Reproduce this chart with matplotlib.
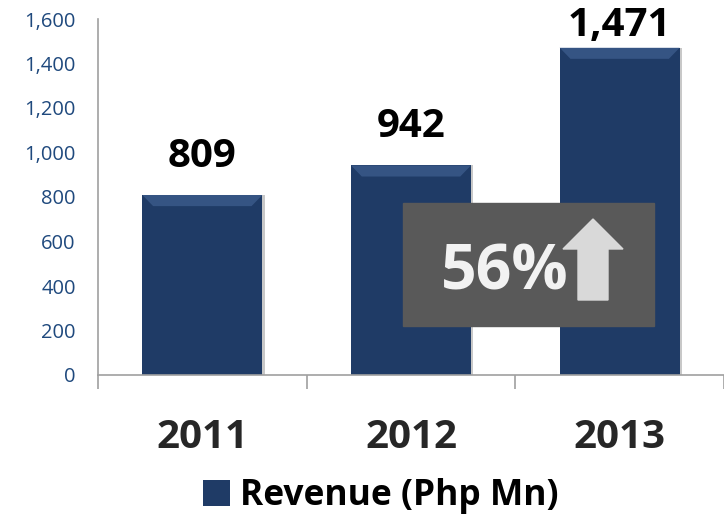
import matplotlib.pyplot as plt
from matplotlib.patches import Rectangle, Polygon

plt.rcParams['font.family'] = ['Open Sans', 'DejaVu Sans']

# Data
years = ['2011', '2012', '2013']
revenue = [809, 942, 1471]
label_offsets = [28, 28, 12]  # px gap above bar (last one squeezed at the top)
growth_label = '56%'
series_name = 'Revenue (Php Mn)'

bar_color = '#1F3B66'
fig = plt.figure(figsize=(7.24, 5.19), dpi=100)
ax = fig.add_axes([98 / 724, 144 / 519, 626 / 724, 356 / 519])

x = list(range(len(years)))
bars = ax.bar(x, revenue, width=0.575, color=bar_color, edgecolor='none',
              label=series_name, zorder=2)

# simple bevel on top of each bar
for rect in bars:
    x0 = rect.get_x()
    w = rect.get_width()
    top = rect.get_height()
    dx = w * 0.09
    dy = 50
    ax.add_patch(Polygon([(x0, top), (x0 + w, top), (x0 + w - dx, top - dy), (x0 + dx, top - dy)],
                         closed=True, color='#3F5F90', alpha=0.7, lw=0, zorder=3))
    ax.add_patch(Rectangle((x0 + w, 0), 0.012, top, color='#C8C8C8', lw=0, zorder=1))

# value labels
for rect, v, off in zip(bars, revenue, label_offsets):
    ax.annotate(f'{v:,}', (rect.get_x() + rect.get_width() / 2, v),
                xytext=(0, off * 0.72), textcoords='offset points',
                ha='center', va='baseline', fontsize=29, fontweight='bold', color='black')

ax.set_xlim(-0.5, len(years) - 0.5)
ax.set_ylim(0, 1600)
ax.set_yticks(range(0, 1601, 200))
ax.set_yticklabels([f'{v:,}' for v in range(0, 1601, 200)])
ax.tick_params(axis='y', length=0, pad=16, labelsize=14.5, labelcolor='#1F497D')

ax.set_xticks(x)
ax.set_xticklabels(years, fontsize=29, fontweight='bold', color='#262626')
ax.set_xticks([i - 0.5 for i in range(len(years) + 1)], minor=True)
ax.tick_params(axis='x', which='major', length=0, pad=31)
ax.tick_params(axis='x', which='minor', length=10, width=1.2, color='#A0A0A0')

for s in ['top', 'right']:
    ax.spines[s].set_visible(False)
for s in ['left', 'bottom']:
    ax.spines[s].set_color('#A0A0A0')
    ax.spines[s].set_linewidth(1.2)

# growth callout
fig.patches.append(Rectangle((403 / 724, 1 - 326 / 519), 251 / 724, 123 / 519,
                             transform=fig.transFigure, color='#595959', zorder=5))
arrow_px = [(593, 219), (623, 249), (608, 249), (608, 300), (578, 300), (578, 249), (563, 249)]
fig.patches.append(Polygon([(px / 724, 1 - py / 519) for px, py in arrow_px], closed=True,
                           transform=fig.transFigure, color='#D9D9D9', zorder=6))
fig.text(505 / 724, 1 - 290 / 519, growth_label, ha='center', va='baseline',
         fontsize=45, fontweight='bold', color='#F2F2F2', zorder=7)

fig.legend(handles=[bars], labels=[series_name], loc='center', bbox_to_anchor=(381 / 724, 1 - 496 / 519),
           frameon=False, prop={'size': 25.5, 'weight': 'bold'}, handlelength=0.75, handleheight=0.75,
           handletextpad=0.3)

plt.savefig('out.png')
